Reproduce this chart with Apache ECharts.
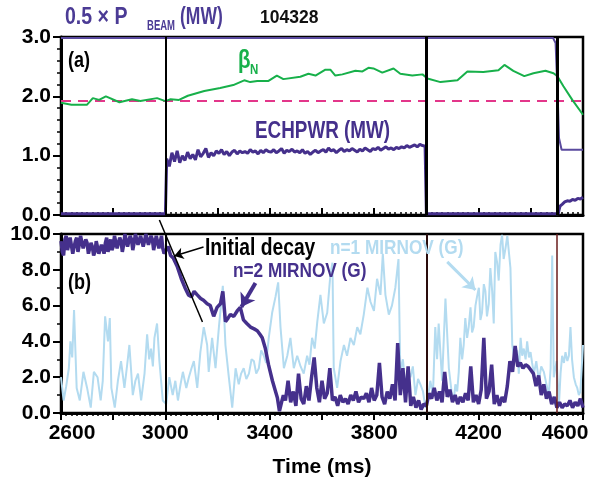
<!DOCTYPE html>
<html>
<head>
<meta charset="utf-8">
<script src="https://cdn.jsdelivr.net/npm/echarts@6/dist/echarts.min.js"></script>
<style>html,body{margin:0;padding:0;background:#fff}#c{width:600px;height:480px}</style>
</head>
<body>
<div id="c"></div>
<script>
// ---------- data ----------
const X_LABELS = [2600, 3000, 3400, 3800, 4200, 4600];
const A_Y_LABELS = ['0.0', '1.0', '2.0', '3.0'];
const B_Y_LABELS = ['0.0', '2.0', '4.0', '6.0', '8.0', '10.0'];

const beamT = [2600, 4485, 4495, 4503, 4508, 4518, 4600];
const beamV = [2.985, 2.985, 2.9, 2.0, 1.3, 1.1, 1.1];

const betaT = [2600, 2640, 2700, 2722, 2746, 2772, 2824, 2872, 2904, 2968, 3000, 3020, 3052, 3086, 3149, 3210, 3260, 3302, 3325, 3352, 3395, 3427, 3452, 3517, 3548, 3575, 3613, 3632, 3651, 3678, 3728, 3755, 3778, 3797, 3831, 3874, 3900, 3946, 3985, 4004, 4054, 4119, 4157, 4218, 4276, 4299, 4333, 4375, 4410, 4456, 4487, 4502, 4525, 4559, 4600];
const betaV = [1.89, 1.86, 1.86, 1.97, 1.94, 2.0, 1.9, 1.95, 1.92, 1.97, 1.92, 1.95, 1.94, 2.01, 2.09, 2.14, 2.19, 2.27, 2.24, 2.26, 2.26, 2.35, 2.29, 2.33, 2.38, 2.35, 2.45, 2.45, 2.35, 2.37, 2.43, 2.42, 2.48, 2.47, 2.40, 2.47, 2.38, 2.35, 2.37, 2.30, 2.24, 2.27, 2.42, 2.41, 2.44, 2.53, 2.43, 2.34, 2.39, 2.43, 2.39, 2.34, 2.17, 1.94, 1.69];

const refBeta = 1.92;

// ECH power: off segment, on segment sampled every 10 ms from 3005, off, small tail
const echOffT = [2600, 3000];
const echOffV = [0.02, 0.02];
const echOnStart = 3005, echOnStep = 10;
const echOnV = [
  0.95, 0.82, 1.05, 0.90, 1.08, 0.88, 1.00, 0.92, 1.06, 0.95,
  1.02, 0.93, 1.10, 0.98, 1.04, 1.12, 0.97, 1.05, 1.00, 1.08,
  1.04, 1.10, 1.02, 1.07, 1.00, 1.06, 1.09, 1.03, 1.08, 1.05,
  1.07, 1.04, 1.10, 1.06, 1.08, 1.03, 1.09, 1.05, 1.10, 1.07,
  1.06, 1.10, 1.05, 1.08, 1.12, 1.04, 1.09, 1.07, 1.11, 1.06,
  1.08, 1.05, 1.10, 1.04, 1.07, 1.02, 1.06, 1.09, 1.05, 1.08,
  1.10, 1.06, 1.13, 1.08, 1.10, 1.05, 1.09, 1.12, 1.07, 1.10,
  1.08, 1.12, 1.09, 1.06, 1.11, 1.08, 1.13, 1.10, 1.07, 1.12,
  1.10, 1.14, 1.09, 1.12, 1.15, 1.11, 1.13, 1.10, 1.14, 1.12,
  1.15, 1.13, 1.17, 1.14, 1.16, 1.18, 1.15, 1.19, 1.17, 1.16];
const echTailT = [3998, 4000, 4505, 4508, 4512, 4520, 4530, 4540, 4550, 4560, 4570, 4580, 4590, 4600];
const echTailV = [1.16, 0.02, 0.02, 0.08, 0.15, 0.18, 0.22, 0.24, 0.23, 0.26, 0.25, 0.28, 0.27, 0.30];

// n=2 Mirnov: flat-top sampled every 5 ms from 2600, then irregular points
const n2FlatStart = 2600, n2FlatStep = 5;
const n2FlatV = [
  9.6, 9.0, 8.8, 9.7, 9.9, 9.1, 9.2, 9.8, 9.7, 8.9,
  9.0, 9.6, 9.8, 9.0, 9.4, 9.9, 10.0, 9.2, 9.1, 9.7,
  9.5, 8.9, 8.9, 9.5, 9.3, 8.8, 9.0, 9.6, 9.6, 8.9,
  8.8, 9.4, 9.2, 8.9, 9.5, 9.8, 9.0, 9.3, 9.7, 9.1,
  9.3, 9.9, 9.8, 9.2, 9.1, 9.8, 9.6, 9.0, 9.4, 10.0,
  9.9, 9.3, 9.2, 9.9, 9.7, 9.1, 9.5, 10.0, 10.0, 9.4,
  9.4, 9.9, 9.8, 9.3, 9.6, 10.0, 10.0, 9.4, 9.3, 9.9,
  9.7, 9.1, 9.5, 9.9, 9.8, 9.2, 9.3, 9.9, 9.2, 8.9];
const n2T = [3000, 3010, 3020, 3030, 3045, 3061, 3075, 3088, 3100, 3110, 3122, 3135, 3146, 3160, 3172, 3185, 3198, 3211, 3220, 3230, 3240, 3249, 3262, 3275, 3287, 3299, 3312, 3326, 3340, 3352, 3362, 3371, 3383, 3395, 3410, 3420, 3429, 3437, 3445, 3452,
  3460, 3470, 3480, 3490, 3500, 3510, 3520, 3530, 3540, 3550, 3560, 3570, 3580, 3590, 3600, 3610, 3620, 3630, 3640, 3650, 3660, 3670, 3680, 3690, 3700, 3710, 3720, 3730, 3740, 3750, 3760, 3770, 3780, 3790, 3800, 3810, 3820, 3830, 3840, 3850, 3860, 3870, 3880, 3890, 3900, 3910, 3920, 3930, 3940, 3950, 3960, 3970, 3980, 3990,
  4000, 4010, 4020, 4030, 4040, 4050, 4060, 4070, 4080, 4090, 4100, 4110, 4120, 4130, 4140, 4150, 4160, 4170, 4180, 4190, 4200, 4210, 4220, 4230, 4240, 4250, 4260, 4270, 4280, 4290, 4300, 4310, 4320, 4330, 4340, 4350, 4360, 4370, 4380, 4390, 4400, 4410, 4420, 4430, 4440, 4450, 4460, 4470, 4480, 4490, 4500,
  4510, 4520, 4530, 4540, 4550, 4560, 4570, 4580, 4590, 4600];
const n2V = [9.05, 9.3, 8.8, 8.66, 8.2, 7.5, 7.0, 6.6, 6.5, 6.8, 6.6, 6.4, 6.3, 6.1, 6.0, 5.4, 5.9, 6.1, 6.8, 5.1, 5.3, 5.5, 5.4, 5.7, 5.9, 5.2, 5.0, 4.8, 4.7, 4.6, 4.4, 4.2, 3.6, 2.7, 1.8, 1.3, 0.85, 0.1, 0.6, 1.0,
  0.7, 1.8, 0.6, 1.2, 0.4, 2.2, 0.8, 0.5, 1.5, 0.7, 2.0, 3.1, 1.4, 0.6, 1.8, 0.8, 1.1, 2.5, 0.7, 0.9, 0.4, 1.0, 0.6, 0.8, 0.5, 1.0, 0.7, 1.2, 0.6, 0.9, 0.8, 1.1, 0.6, 1.4, 0.7, 1.0, 2.8, 0.9, 0.5, 1.2, 0.8, 1.6, 0.7, 3.9, 1.0, 2.5, 0.6, 2.6, 0.4, 0.9, 0.3, 0.7, 0.2, 0.5,
  0.4, 1.1, 0.8, 1.4, 0.7, 1.2, 0.6, 2.3, 0.9, 1.3, 0.6, 1.0, 0.5, 0.9, 0.6, 1.1, 0.7, 2.6, 0.6, 1.0, 0.5, 1.3, 4.2, 0.8, 1.2, 2.7, 0.5, 1.0, 0.4, 0.9, 0.6, 1.5, 2.9, 2.3, 3.75, 2.6, 2.8, 2.5, 2.7, 2.6, 2.4, 2.2, 1.5, 2.1, 1.0, 1.6, 0.8, 1.2, 0.5, 0.9, 0.3,
  0.6, 0.3, 0.5, 0.4, 0.7, 0.3, 0.6, 0.4, 0.8, 0.3];

// n=1 Mirnov
const n1T = [2600, 2610, 2620, 2630, 2636, 2643, 2650, 2660, 2672, 2686, 2700, 2714, 2726, 2740, 2752, 2760, 2769, 2780, 2787, 2793, 2806, 2818, 2830, 2843, 2852, 2862, 2875, 2885, 2895, 2907, 2920, 2930, 2938, 2945, 2952, 2958, 2968, 2977, 2990,
  3003, 3015, 3028, 3038, 3048, 3058, 3067, 3080, 3090, 3100, 3109, 3122, 3134, 3147, 3160, 3166, 3179, 3192, 3205, 3220, 3230, 3243, 3256, 3269, 3281, 3290, 3300, 3310, 3320, 3330, 3339, 3348, 3358, 3367, 3377, 3386, 3396, 3409, 3422, 3432, 3441, 3454, 3467, 3479, 3492,
  3505, 3518, 3530, 3543, 3552, 3562, 3572, 3582, 3594, 3607, 3620, 3632, 3640, 3645, 3658, 3671, 3684, 3696, 3709, 3722, 3735, 3747, 3760, 3774, 3786, 3799, 3811, 3824, 3833, 3843, 3856, 3868, 3881, 3893, 3900, 3910, 3920, 3930, 3939, 3948, 3958, 3968, 3977, 3987, 3996,
  4005, 4015, 4025, 4034, 4041, 4047, 4060, 4073, 4080, 4086, 4098, 4105, 4111, 4118, 4124, 4130, 4137, 4143, 4149, 4156, 4162, 4169, 4175, 4181, 4188, 4194, 4201, 4207, 4213, 4220, 4226, 4232, 4239, 4245, 4252, 4258, 4264, 4271, 4277, 4284, 4290, 4296, 4303, 4310, 4316, 4322, 4329, 4335, 4341, 4348, 4354, 4361, 4367, 4373, 4380, 4386, 4393, 4399, 4405, 4412, 4421, 4431, 4440, 4450, 4460, 4469, 4476, 4482, 4488, 4499,
  4508, 4514, 4520, 4527, 4533, 4540, 4546, 4552, 4558, 4565, 4572, 4578, 4584, 4590, 4595, 4600];
const n1V = [2.0, 0.7, 1.5, 2.5, 4.0, 3.1, 5.75, 1.4, 0.7, 2.3, 1.4, 0.3, 2.3, 2.0, 0.7, 1.8, 5.4, 4.0, 5.3, 1.4, 0.3, 1.8, 2.9, 1.4, 2.5, 3.8, 1.0, 1.8, 2.2, 0.7, 2.2, 4.4, 3.0, 3.6, 2.6, 4.2, 5.0, 2.9, 0.7,
  0.5, 2.0, 1.0, 1.8, 0.7, 1.6, 2.3, 1.4, 2.0, 2.5, 2.9, 1.4, 3.4, 4.8, 3.8, 2.3, 4.2, 2.5, 4.8, 7.1, 3.8, 2.0, 0.3, 2.5, 1.6, 2.2, 2.5, 1.9, 2.2, 3.0, 2.9, 2.2, 2.5, 3.5, 3.2, 2.8, 4.2, 5.6, 6.5, 7.3, 4.8, 2.5, 3.2, 4.2, 2.5,
  3.2, 2.6, 2.2, 3.2, 2.7, 4.2, 3.6, 5.1, 6.6, 5.0, 5.6, 7.7, 8.4, 2.5, 1.4, 2.9, 3.8, 3.2, 4.2, 3.8, 4.8, 4.4, 5.5, 7.0, 6.2, 5.7, 7.5, 6.6, 8.9, 6.6, 5.5, 6.0, 7.0, 8.6, 2.3, 3.0, 1.4, 2.4, 2.0, 2.6, 1.0, 1.9, 1.6, 1.2, 0.3,
  0.8, 1.8, 1.0, 4.8, 3.0, 5.0, 1.8, 6.4, 6.5, 2.5, 1.0, 0.7, 1.6, 1.2, 2.3, 4.2, 3.0, 3.8, 5.3, 4.2, 4.8, 5.9, 4.5, 4.8, 6.0, 6.5, 7.0, 5.2, 5.6, 7.2, 6.8, 5.4, 6.1, 8.1, 6.8, 5.0, 9.0, 8.4, 7.4, 9.4, 9.95, 8.6, 9.2, 9.9, 10.0, 8.1, 3.8, 3.2, 2.9, 3.5, 2.2, 4.2, 3.2, 3.6, 3.0, 4.0, 3.1, 3.4, 2.8, 2.2, 2.9, 1.8, 2.6, 2.3, 1.6, 1.0, 2.5, 8.8, 2.0, 2.9,
  0.5, 2.2, 3.2, 2.8, 3.4, 2.9, 3.2, 4.8, 3.0, 2.0, 1.6, 1.4, 1.0, 1.2, 2.5, 3.8];

// straight "initial decay" fit line end points
const decayT = [2977, 3142];
const decayV = [10.78, 5.08];

// event times (vertical lines)
const eventT = [3000, 4000, 4500];

// annotation arrows [from, to] in data coordinates
const arrowDecay = [[3146, 9.27], [3034, 8.77]];
const arrowN2 = [[3345, 7.26], [3291, 5.92]];
const arrowN1 = [[4080, 8.44], [4188, 6.87]];

// ---------- build ----------
const zip = (t, v) => t.map((x, i) => [x, v[i]]);
const uniform = (start, step, v) => v.map((y, i) => [start + i * step, y]);

const echData = zip(echOffT, echOffV).concat(uniform(echOnStart, echOnStep, echOnV), zip(echTailT, echTailV));
const n2Data = uniform(n2FlatStart, n2FlatStep, n2FlatV).concat(zip(n2T, n2V));
const n1Data = zip(n1T, n1V);

const PURPLE = '#45308c';
const GREEN = '#17b04a';
const PINK = '#e3368a';
const LBLUE = '#b3dbf0';
const FR = "'Liberation Sans',Arial,sans-serif";
const SQ = 0.82; // horizontal squeeze of the narrow annotation lettering

function xAxis(gridIndex, showLabels) {
  return {
    type: 'value', gridIndex, min: 2600, max: 4600, interval: 200,
    axisLine: { show: true, onZero: false, lineStyle: { color: '#000', width: 3 } },
    axisTick: { show: true, inside: !showLabels, length: 7, lineStyle: { color: '#000', width: 2 } },
    minorTick: { show: true, splitNumber: 10, length: 3, lineStyle: { color: '#000', width: 1.5 } },
    splitLine: { show: false },
    axisLabel: showLabels ? {
      show: true, interval: 0, margin: 10, color: '#000', fontFamily: FR, fontWeight: 'bold', fontSize: 21,
      formatter: v => {
        if (!X_LABELS.includes(v)) return '';
        if (v === X_LABELS[0]) return '{first|' + v + '}';
        if (v === X_LABELS[X_LABELS.length - 1]) return '{last|' + v + '}';
        return String(v);
      },
      rich: { first: { padding: [0, 0, 0, 22] }, last: { padding: [0, 36, 0, 0] } }
    } : { show: false },
    name: showLabels ? 'Time (ms)' : '',
    nameLocation: 'middle', nameGap: 44,
    nameTextStyle: { color: '#000', fontFamily: FR, fontWeight: 'bold', fontSize: 21 }
  };
}
function yAxis(gridIndex, max, interval, minor, labels) {
  return {
    type: 'value', gridIndex, min: 0, max, interval,
    axisLine: { show: true, lineStyle: { color: '#000', width: 3 } },
    axisTick: { show: true, length: 8, lineStyle: { color: '#000', width: 2 } },
    minorTick: { show: true, splitNumber: minor, length: 4, lineStyle: { color: '#000', width: 1.5 } },
    splitLine: { show: false },
    axisLabel: {
      margin: 10, color: '#000', fontFamily: FR, fontWeight: 'bold', fontSize: 21,
      formatter: v => labels[Math.round(v / interval)]
    }
  };
}
function vline(t, color, width) {
  return { xAxis: t, lineStyle: { color, width, type: 'solid' } };
}
function arrow(pair, color, width, size) {
  return {
    type: 'line', xAxisIndex: 1, yAxisIndex: 1, data: [], silent: true,
    markLine: {
      silent: true, symbol: ['none', 'arrow'], symbolSize: size, animation: false,
      label: { show: false },
      lineStyle: { color, width, type: 'solid' },
      data: [[{ coord: pair[0] }, { coord: pair[1] }]]
    }
  };
}
function txt(x, y, text, size, fill, sq) {
  return {
    type: 'text', x, y, silent: true, z: 100, scaleX: sq == null ? SQ : sq,
    style: { text, font: 'bold ' + size + 'px ' + FR, fill, align: 'left', verticalAlign: 'middle', textAlign: 'left', textVerticalAlign: 'middle' }
  };
}

const option = {
  animation: false,
  backgroundColor: '#fff',
  grid: [
    { left: 61, right: 17, top: 37, height: 178, show: true, borderColor: '#000', borderWidth: 2.5, backgroundColor: 'transparent' },
    { left: 61, right: 17, top: 234, height: 179, show: true, borderColor: '#000', borderWidth: 2.5, backgroundColor: 'transparent' }
  ],
  xAxis: [xAxis(0, false), xAxis(1, true)],
  yAxis: [yAxis(0, 3, 1, 5, A_Y_LABELS), yAxis(1, 10, 2, 2, B_Y_LABELS)],
  series: [
    // panel (a)
    { type: 'line', xAxisIndex: 0, yAxisIndex: 0, showSymbol: false, silent: true,
      data: [[2600, refBeta], [4600, refBeta]], lineStyle: { color: PINK, width: 2, type: [10, 7] } },
    { type: 'line', xAxisIndex: 0, yAxisIndex: 0, showSymbol: false, silent: true,
      data: zip(betaT, betaV), lineStyle: { color: GREEN, width: 2 } },
    { type: 'line', xAxisIndex: 0, yAxisIndex: 0, showSymbol: false, silent: true,
      data: echData, lineStyle: { color: PURPLE, width: 3 } },
    { type: 'line', xAxisIndex: 0, yAxisIndex: 0, showSymbol: false, silent: true, z: 3,
      data: zip(beamT, beamV), lineStyle: { color: '#5a4a9e', width: 2 },
      markLine: { silent: true, symbol: ['none', 'none'], label: { show: false }, animation: false,
        data: [vline(eventT[0], '#000', 2), vline(eventT[1], '#000', 3), vline(eventT[2], '#000', 3)] } },
    // panel (b)
    { type: 'line', xAxisIndex: 1, yAxisIndex: 1, showSymbol: false, silent: true,
      data: n1Data, lineStyle: { color: LBLUE, width: 2 } },
    { type: 'line', xAxisIndex: 1, yAxisIndex: 1, showSymbol: false, silent: true,
      data: n2Data, lineStyle: { color: PURPLE, width: 3.5 } },
    { type: 'line', xAxisIndex: 1, yAxisIndex: 1, showSymbol: false, silent: true, clip: false,
      data: zip(decayT, decayV), lineStyle: { color: '#000', width: 1.5 },
      markLine: { silent: true, symbol: ['none', 'none'], label: { show: false }, animation: false,
        data: [vline(eventT[0], '#000', 2), vline(eventT[1], '#2a0c0c', 2), vline(eventT[2], '#6a1c1c', 1.5)] } },
    arrow(arrowDecay, '#000', 1.5, 9),
    arrow(arrowN2, PURPLE, 4, 13),
    arrow(arrowN1, LBLUE, 3, 12)
  ],
  graphic: [
    txt(65, 18, '0.5 × P', 23, '#4b3b95', 0.85),
    txt(147, 26, 'BEAM', 14, '#4b3b95', 0.68),
    txt(180, 18, '(MW)', 23, '#4b3b95', 0.76),
    txt(260, 18, '104328', 17.5, '#111', 1),
    txt(68, 61, '(a)', 22, '#000'),
    txt(238, 61, 'β', 25, GREEN),
    txt(250, 70, 'N', 14, GREEN),
    txt(255, 132, 'ECHPWR (MW)', 23, PURPLE),
    txt(68, 283, '(b)', 22, '#000'),
    txt(205, 249, 'Initial decay', 23.5, '#000'),
    txt(233, 271, 'n=2 MIRNOV (G)', 21, PURPLE),
    txt(330, 248, 'n=1 MIRNOV (G)', 21, LBLUE)
  ]
};

const chart = echarts.init(document.getElementById('c'), null, { renderer: 'canvas' });
chart.setOption(option);
</script>
</body>
</html>
